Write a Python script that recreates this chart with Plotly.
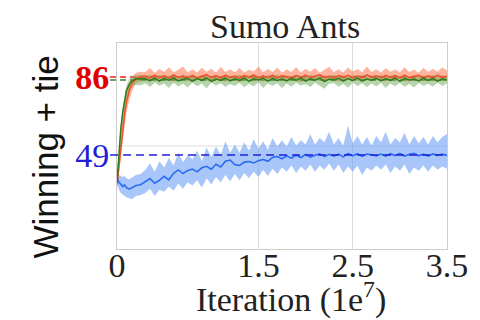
import plotly.graph_objects as go

# ---------------- data ----------------
iteration = [0, 0.02, 0.04, 0.06, 0.08, 0.10, 0.13, 0.16, 0.20, 0.25,
             0.30, 0.35, 0.40, 0.45, 0.50, 0.55, 0.60, 0.65, 0.70, 0.75,
             0.80, 0.85, 0.90, 0.95, 1.00, 1.05, 1.10, 1.15, 1.20, 1.25,
             1.30, 1.35, 1.40, 1.45, 1.50, 1.55, 1.60, 1.65, 1.70, 1.75,
             1.80, 1.85, 1.90, 1.95, 2.00, 2.05, 2.10, 2.15, 2.20, 2.25,
             2.30, 2.35, 2.40, 2.45, 2.50, 2.55, 2.60, 2.65, 2.70, 2.75,
             2.80, 2.85, 2.90, 2.95, 3.00, 3.05, 3.10, 3.15, 3.20, 3.25,
             3.30, 3.35, 3.40, 3.45, 3.50]

red_mean = [35, 44, 53, 61, 68, 74, 79.5, 83, 85.3, 86.0,
            86.4, 85.5, 86.9, 85.7, 86.6, 85.4, 87.0, 85.8, 86.5, 85.6,
            86.8, 85.5, 86.3, 87.1, 85.7, 86.6, 85.4, 86.9, 85.8, 86.4,
            85.5, 86.7, 85.9, 87.0, 85.6, 86.5, 85.8, 86.9, 85.5, 86.6,
            86.1, 85.4, 86.8, 85.7, 86.9, 85.6, 86.4, 87.0, 85.8, 86.3,
            85.5, 86.7, 85.9, 86.8, 85.6, 86.4, 85.7, 87.0, 85.9, 86.5,
            85.6, 86.8, 85.8, 86.6, 85.5, 86.9, 85.7, 86.3, 86.8, 85.6,
            86.5, 85.7, 86.8, 85.9, 86.3]
red_upper = [38, 49, 58, 66, 72, 78, 83, 86, 88, 88.5,
             88.4, 90.2, 88.0, 89.8, 88.3, 90.6, 88.1, 89.5, 90.9, 88.2,
             89.7, 88.1, 90.4, 88.5, 89.9, 88.0, 90.8, 88.4, 89.6, 88.2,
             90.3, 88.1, 89.4, 88.6, 91.0, 88.2, 89.8, 88.3, 90.5, 88.0,
             89.6, 88.4, 90.7, 88.1, 89.9, 88.5, 90.2, 88.0, 89.4, 90.8,
             88.3, 89.7, 88.1, 90.5, 88.6, 89.8, 88.2, 90.9, 88.4, 89.6,
             88.1, 90.3, 88.5, 89.7, 88.2, 90.6, 88.4, 89.5, 88.0, 90.4,
             88.3, 89.9, 88.5, 90.6, 89.0]
red_lower = [33, 39, 47, 55, 62, 69, 75, 79.5, 83, 84.0,
             84.3, 83.8, 84.6, 84.0, 84.9, 84.2, 83.7, 84.5, 85.0, 84.1,
             83.6, 84.4, 85.1, 84.2, 83.9, 84.7, 84.1, 83.8, 84.8, 84.3,
             83.7, 84.2, 85.0, 84.1, 84.5, 83.8, 84.6, 84.3, 85.1, 83.9,
             84.3, 84.9, 84.0, 83.6, 84.5, 84.2, 85.0, 83.9, 84.4, 84.8,
             84.1, 83.8, 84.5, 85.0, 84.0, 84.3, 83.7, 84.6, 84.2, 84.9,
             84.0, 83.9, 84.5, 84.2, 85.0, 84.1, 83.8, 84.4, 84.8, 84.0,
             84.3, 83.9, 84.6, 84.2, 84.5]

green_mean = [36, 50, 61, 69, 75, 79.5, 82.5, 84.2, 85.0, 85.2,
              85.1, 84.2, 85.4, 84.0, 85.2, 84.5, 85.5, 84.1, 84.9, 85.3,
              84.0, 85.2, 84.4, 85.5, 83.9, 85.0, 84.3, 85.4, 84.1, 85.1,
              84.4, 85.5, 83.9, 85.1, 84.6, 85.4, 84.0, 85.2, 84.3, 85.0,
              84.1, 85.3, 84.5, 85.5, 84.0, 85.1, 84.4, 85.4, 83.8, 85.0,
              84.6, 85.4, 84.0, 85.2, 84.3, 85.5, 84.1, 85.0, 84.5, 85.3,
              84.2, 85.1, 84.4, 85.5, 83.9, 85.2, 84.6, 85.0, 84.1, 85.4,
              84.3, 85.2, 84.0, 85.1, 84.6]
green_upper = [39, 53, 64, 72, 78, 82, 84.8, 86.3, 86.8, 87.0,
               86.5, 87.0, 86.3, 86.9, 86.1, 86.7, 87.2, 86.4, 86.0, 86.8,
               86.6, 86.1, 87.0, 86.6, 86.3, 87.1, 86.4, 86.8, 86.0, 86.7,
               86.9, 86.2, 86.7, 87.1, 86.4, 85.9, 86.8, 86.5, 87.0, 86.3,
               86.7, 86.1, 86.9, 86.6, 86.2, 87.0, 86.4, 86.8, 86.1, 86.7,
               87.0, 86.3, 86.6, 86.0, 86.8, 86.5, 87.1, 86.2, 86.7, 86.4,
               86.9, 86.1, 86.6, 87.0, 86.3, 86.7, 86.0, 86.8, 86.4, 86.6,
               86.2, 86.9, 86.5, 86.7, 86.4]
green_lower = [33, 46, 57, 65, 71, 76, 79.5, 81.5, 82.3, 82.0,
               83.0, 81.2, 83.4, 81.8, 82.9, 80.8, 83.3, 81.5, 82.8, 81.0,
               83.2, 81.6, 82.9, 80.5, 83.4, 81.9, 83.0, 81.3, 82.7, 81.7,
               83.3, 81.1, 82.8, 81.6, 83.4, 80.7, 82.9, 81.8, 83.1, 80.6,
               82.9, 81.4, 83.3, 81.9, 82.7, 81.2, 83.2, 81.6, 80.4, 82.8,
               83.1, 81.3, 82.8, 80.9, 83.3, 81.7, 83.0, 81.2, 82.9, 81.5,
               83.2, 80.8, 82.9, 81.6, 83.3, 81.4, 82.7, 81.0, 83.1, 81.8,
               82.8, 81.3, 83.2, 81.7, 82.9]

blue_mean = [38.5, 36.0, 35.2, 34.0, 34.8, 33.5, 32.8, 33.6, 34.5, 34.9,
             36.4, 37.8, 35.6, 37.0, 38.9, 37.2, 40.3, 41.9, 40.2, 41.6,
             42.3, 41.0, 42.9, 43.6, 42.2, 44.6, 43.3, 46.0, 46.6, 44.4,
             44.0, 45.6, 45.9, 45.2, 46.3, 46.9, 46.0, 47.8, 48.3, 47.2,
             48.5, 47.5, 48.9, 47.8, 49.2, 48.0, 48.9, 49.5, 48.2, 49.3,
             48.4, 49.4, 48.1, 49.7, 48.6, 49.6, 48.3, 49.4, 49.1, 48.5,
             49.4, 48.4, 49.6, 48.7, 49.7, 48.5, 49.3, 49.8, 48.6, 49.4,
             48.5, 49.5, 48.8, 49.4, 48.8]
blue_upper = [41, 39.5, 39, 38.5, 39, 38, 37.5, 38.5, 39.5, 40,
              42, 45, 41, 46, 43, 47.5, 44, 50, 45.5, 49,
              47, 51, 46, 52.5, 48, 53, 49, 55.5, 50, 54,
              50, 55, 51, 56.5, 52, 55.5, 51.5, 57, 53, 56,
              53, 57.5, 53.5, 56, 54, 59, 54, 57, 55, 60,
              54, 57, 53.5, 63, 54.5, 58, 54, 57.5, 53.5, 58,
              55, 60, 54, 57, 55, 59.5, 54, 58, 54.5, 57.5,
              54, 58, 55, 57.5, 59]
blue_lower = [36, 32.5, 31, 30, 29.5, 29, 28.5, 28, 29.5, 30,
              31, 33, 29.5, 32.5, 31.5, 34, 32, 35.5, 33, 36,
              34.5, 37, 33.5, 38, 35, 38.5, 36, 39.5, 36.5, 40,
              37, 40.5, 38, 41, 38.5, 42, 39, 42.5, 40, 43,
              41, 44, 40.5, 43.5, 41.5, 44.5, 41, 44, 42, 45,
              41.5, 44.5, 40.5, 43.5, 41, 44, 39.5, 43, 41.5, 44,
              42, 44.5, 40.5, 43.5, 41.5, 44.5, 40, 43, 41.5, 44,
              41, 44, 42, 43.5, 42.5]

ref_red = 86
ref_green = 84.6
ref_blue = 49

x_ticks = [0, 1.5, 2.5, 3.5]
x_tick_labels = ["0", "1.5", "2.5", "3.5"]
y_ticks = [ref_blue, ref_red]
y_tick_labels = ['<span style="color:#1f1fd8">49</span>',
                 '<span style="color:#e00000"><b>86</b></span>']

title_text = "Sumo Ants"
x_title = "Iteration (1e<sup>7</sup>)"
y_title = "Winning + tie"

# ---------------- figure ----------------
fig = go.Figure()


def add_band(upper, lower, fillcolor):
    fig.add_trace(go.Scatter(x=iteration, y=upper, mode="lines",
                             line=dict(width=0), hoverinfo="skip"))
    fig.add_trace(go.Scatter(x=iteration, y=lower, mode="lines",
                             line=dict(width=0), fill="tonexty",
                             fillcolor=fillcolor, hoverinfo="skip"))


add_band(blue_upper, blue_lower, "rgba(110,160,245,0.6)")
fig.add_trace(go.Scatter(x=iteration, y=blue_mean, mode="lines",
                         line=dict(color="#2a6cf2", width=1.6)))
add_band(red_upper, red_lower, "rgba(255,130,95,0.6)")
add_band(green_upper, green_lower, "rgba(90,160,70,0.45)")
fig.add_trace(go.Scatter(x=iteration, y=red_mean, mode="lines",
                         line=dict(color="#f0502a", width=1.5)))
fig.add_trace(go.Scatter(x=iteration, y=green_mean, mode="lines",
                         line=dict(color="#2f7a1c", width=1.5)))

# horizontal mid gridline
fig.add_shape(type="line", xref="x domain", yref="y domain",
              x0=0, x1=1, y0=0.5, y1=0.5, layer="below",
              line=dict(color="#dddddd", width=1))

# reference dashed lines
for val, col, dash, lay in [(ref_red, "#ff1a1a", "6px,4px", "below"),
                            (ref_green, "#2f8a2a", "6px,4px", "below"),
                            (ref_blue, "#1f1fd8", "8px,5px", "above")]:
    fig.add_shape(type="line", xref="x domain", yref="y",
                  x0=-0.021, x1=1, y0=val, y1=val, layer=lay,
                  line=dict(color=col, width=1.5, dash=dash))

serif = "Liberation Serif"
fig.update_layout(
    width=480, height=320,
    margin=dict(l=117, r=28, t=43, b=71),
    plot_bgcolor="white", paper_bgcolor="white",
    showlegend=False,
    xaxis=dict(range=[0, 3.5], tickvals=x_ticks, ticktext=x_tick_labels,
               showgrid=True, gridcolor="#dddddd", gridwidth=1,
               showline=True, mirror=True, linecolor="#cccccc",
               ticks="", zeroline=False, ticklabelstandoff=-14,
               tickfont=dict(family=serif, size=34, color="#222222")),
    yaxis=dict(range=[4.4, 102.1], tickvals=y_ticks, ticktext=y_tick_labels,
               showgrid=False, showline=True, mirror=True,
               linecolor="#cccccc", ticks="", zeroline=False,
               ticklabelstandoff=0,
               tickfont=dict(family=serif, size=34)),
    annotations=[
        dict(text=title_text, xref="paper", yref="paper", x=0.51, y=1.078,
             xanchor="center", yanchor="middle", showarrow=False,
             font=dict(family=serif, size=34, color="#222222")),
        dict(text=x_title, xref="paper", yref="paper", x=0.528, y=-0.237,
             xanchor="center", yanchor="middle", showarrow=False,
             font=dict(family=serif, size=34, color="#222222")),
        dict(text=y_title, xref="paper", yref="paper", x=-0.218, y=0.444,
             xanchor="center", yanchor="middle", showarrow=False,
             textangle=-90,
             font=dict(family="Liberation Sans", size=35, color="#111111")),
    ],
)

fig.write_html("out.html")
